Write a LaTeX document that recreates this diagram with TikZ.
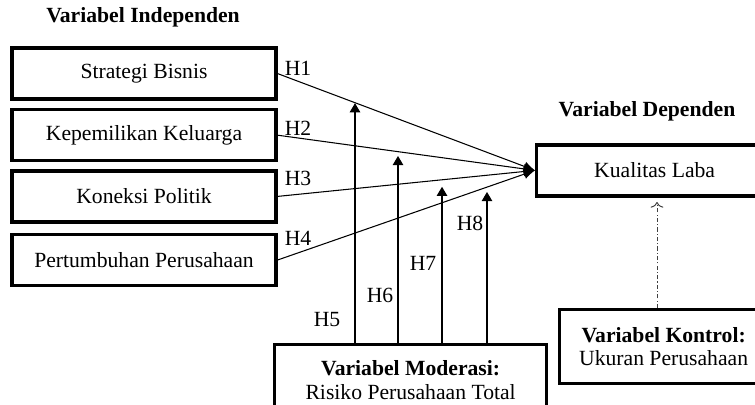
\documentclass[tikz,border=0pt]{standalone}
\usepackage{fontspec}
\setmainfont{Liberation Serif}
\usepackage{xcolor}
\usepackage{tikz}
\usetikzlibrary{arrows.meta}

\begin{document}
\begin{tikzpicture}[
    font=\fontsize{15.4}{17}\selectfont,
    varbox/.style={draw, line width=2.3pt, minimum width=6.6cm, minimum height=1.275cm, inner sep=0pt},
    link/.style={line width=0.75pt, -{Latex[length=8pt, width=7pt]}},
    modarrow/.style={line width=0.75pt, -{Triangle[length=6.5pt, width=7.5pt]}},
    ctrlarrow/.style={line width=0.7pt, black!75, dash pattern=on 3pt off 1.5pt on 0.8pt off 1.5pt, -{To[length=4pt, width=9pt]}},
    hyp/.style={inner sep=1pt}
]
    \useasboundingbox (0,0) rectangle (18.875,10.1);
    \clip (0,0) rectangle (18.875,10.1);

    % Independent variables
    \node[font=\fontsize{15.4}{17}\selectfont\bfseries] (indep) at (3.575,9.675) {Variabel Independen};
    \node[varbox] (s1) at (3.6,8.26) {Strategi Bisnis};
    \node[varbox] (s2) at (3.6,6.72) {Kepemilikan Keluarga};
    \node[varbox] (s3) at (3.6,5.19) {Koneksi Politik};
    \node[varbox] (s4) at (3.6,3.6) {Pertumbuhan Perusahaan};

    % Dependent variable
    \node[font=\fontsize{15.4}{17}\selectfont\bfseries] (dep) at (16.175,7.325) {Variabel Dependen};
    \node[varbox, minimum width=5.9cm, anchor=west] (kl) at (13.375,5.84) {Kualitas Laba};

    % Moderating and control variables
    \node[varbox, minimum width=6.8cm, minimum height=1.775cm, align=center, anchor=north west] (mod) at (6.825,1.525)
        {\textbf{Variabel Moderasi:}\\Risiko Perusahaan Total};
    \node[varbox, minimum width=5.2cm, minimum height=1.85cm, align=center, anchor=north west] (ctrl) at (13.95,2.4)
        {\textbf{Variabel Kontrol:}\\Ukuran Perusahaan};

    % Direct effects
    \draw[link] (s1.east) -- (kl.west);
    \draw[link] (s2.east) -- (kl.west);
    \draw[link] (s3.east) -- (kl.west);
    \draw[link] (s4.east) -- (kl.west);
    \node[hyp] (h1) at (7.45,8.4) {H1};
    \node[hyp] (h2) at (7.45,6.9) {H2};
    \node[hyp] (h3) at (7.45,5.65) {H3};
    \node[hyp] (h4) at (7.45,4.15) {H4};

    % Moderating effects
    \coordinate (t5) at (8.875,7.52);
    \coordinate (t6) at (9.95,6.2);
    \coordinate (t7) at (11.05,5.43);
    \coordinate (t8) at (12.175,5.3);
    \draw[modarrow] (mod.north -| t5) -- (t5);
    \draw[modarrow] (mod.north -| t6) -- (t6);
    \draw[modarrow] (mod.north -| t7) -- (t7);
    \draw[modarrow] (mod.north -| t8) -- (t8);
    \node[hyp] (h5) at (8.175,2.1) {H5};
    \node[hyp] (h6) at (9.5,2.725) {H6};
    \node[hyp] (h7) at (10.575,3.525) {H7};
    \node[hyp] (h8) at (11.75,4.525) {H8};

    % Control
    \coordinate (tc) at (16.425,5.05);
    \draw[ctrlarrow] (ctrl.north -| tc) -- (tc);
\end{tikzpicture}
\end{document}
